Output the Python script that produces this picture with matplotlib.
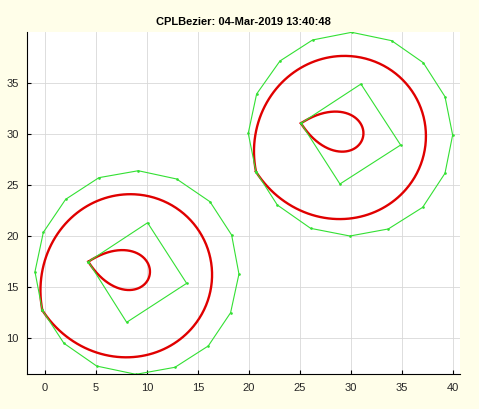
import numpy as np
import matplotlib
matplotlib.use("Agg")
import matplotlib.pyplot as plt
from math import comb

# control polygons (closed: first point repeated at the end)
outer1_x = [-0.26, -0.98, -0.16, 2.03, 5.29, 9.15, 12.91, 16.18, 18.30, 19.02, 18.20, 16.01, 12.75, 8.92, 5.07, 1.86, -0.26]
outer1_y = [12.75, 16.53, 20.39, 23.63, 25.75, 26.43, 25.62, 23.39, 20.13, 16.30, 12.51, 9.25, 7.16, 6.47, 7.28, 9.51, 12.75]
inner1_x = [4.25, 10.06, 13.89, 8.01, 4.25]
inner1_y = [17.51, 21.33, 15.39, 11.57, 17.51]

outer2_x = [20.69, 19.93, 20.75, 23.04, 26.24, 30.07, 33.99, 37.09, 39.22, 39.97, 39.22, 37.03, 33.66, 29.90, 26.05, 22.78, 20.69]
outer2_y = [26.33, 30.10, 33.95, 37.19, 39.25, 40.00, 39.18, 37.02, 33.69, 29.93, 26.18, 22.84, 20.72, 20.03, 20.78, 23.07, 26.33]
inner2_x = [25.10, 30.98, 34.87, 28.92, 25.10]
inner2_y = [31.08, 34.93, 28.95, 25.13, 31.08]

polygons = [(outer1_x, outer1_y), (inner1_x, inner1_y),
            (outer2_x, outer2_y), (inner2_x, inner2_y)]


def bezier(px, py, n=400):
    px = np.asarray(px)
    py = np.asarray(py)
    deg = len(px) - 1
    t = np.linspace(0, 1, n)
    bx = np.zeros(n)
    by = np.zeros(n)
    for k in range(deg + 1):
        b = comb(deg, k) * t**k * (1 - t)**(deg - k)
        bx += b * px[k]
        by += b * py[k]
    return bx, by


fig = plt.figure(figsize=(4.79, 4.09), dpi=100, facecolor="#fffee9")
ax = fig.add_axes([0.0564, 0.0848, 0.9039, 0.8362])

for px, py in polygons:
    bx, by = bezier(px, py)
    ax.plot(bx, by, color="#e00000", linewidth=1.7)
for px, py in polygons:
    ax.plot(px, py, color="#33e033", linewidth=0.8, marker=".", markersize=1.8)

ax.set_xlim(-1.76, 40.69)
ax.set_ylim(6.47, 40.0)
ax.set_xticks(np.arange(0, 41, 5))
ax.set_yticks(np.arange(10, 36, 5))
ax.grid(True, color="#d8d8d8", linewidth=0.6)
ax.set_axisbelow(True)
ax.spines["top"].set_visible(False)
ax.spines["right"].set_visible(False)
ax.tick_params(direction="in", length=3, labelsize=8, labelcolor="#262626",
               pad=6)
for lab in ax.get_xticklabels() + ax.get_yticklabels():
    lab.set_family("Liberation Sans")

ax.set_title("CPLBezier: 04-Mar-2019 13:40:48", fontsize=8, fontweight="bold",
             family="Liberation Sans", pad=5)

fig.savefig("out.png", dpi=100, facecolor=fig.get_facecolor())
